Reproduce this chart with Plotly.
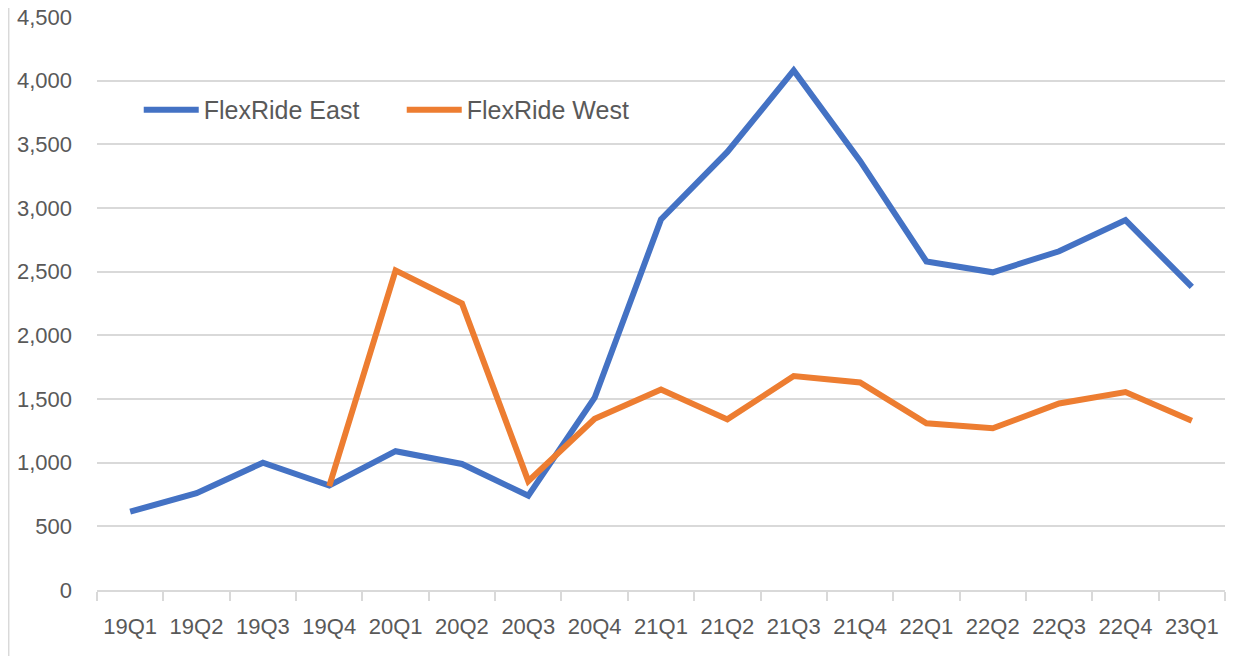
import plotly.graph_objects as go

quarters = ["19Q1", "19Q2", "19Q3", "19Q4", "20Q1", "20Q2", "20Q3", "20Q4", "21Q1",
            "21Q2", "21Q3", "21Q4", "22Q1", "22Q2", "22Q3", "22Q4", "23Q1"]
east = [615, 760, 1000, 820, 1090, 990, 740, 1510, 2910,
        3440, 4080, 3370, 2580, 2495, 2660, 2905, 2380]
west = [None, None, None, 815, 2510, 2250, 855, 1345, 1575,
        1340, 1680, 1630, 1310, 1270, 1465, 1555, 1330]

font_face = "Liberation Sans"
grey = "#595959"

fig = go.Figure()
fig.add_trace(go.Scatter(x=quarters, y=east, name="FlexRide East", mode="lines",
                         line=dict(color="#4472C4", width=6)))
fig.add_trace(go.Scatter(x=quarters, y=west, name="FlexRide West", mode="lines",
                         line=dict(color="#ED7D31", width=6)))

# chart frame on the left
fig.add_shape(type="line", xref="paper", yref="paper", x0=-0.0785, x1=-0.0785,
              y0=-0.2, y1=1.1, line=dict(color="#d9d9d9", width=2))

# page body adds an 8px offset, so margins are trimmed by 8
fig.update_layout(
    width=1243, height=648,
    margin=dict(l=89, r=26, t=9, b=66),
    paper_bgcolor="white", plot_bgcolor="white",
    font=dict(family=font_face, size=22, color=grey),
    showlegend=True,
    legend=dict(orientation="h", x=0.037, y=0.8377, xanchor="left", yanchor="middle",
                font=dict(size=25, color=grey), itemwidth=55,
                entrywidth=193, entrywidthmode="pixels",
                traceorder="normal", bgcolor="rgba(0,0,0,0)"),
    xaxis=dict(type="category", range=[-0.5, 16.5], tickson="boundaries",
               ticks="outside", ticklen=9, tickcolor="#d9d9d9", tickwidth=2,
               showline=True, linecolor="#d9d9d9", linewidth=2,
               showgrid=False, ticklabelstandoff=16, automargin=False,
               ticklabeloverflow="allow"),
    yaxis=dict(range=[0, 4500], dtick=500, tickformat=",", showgrid=True,
               gridcolor="#d9d9d9", gridwidth=2, zeroline=False, showline=False,
               ticks="", ticklabelstandoff=24, automargin=False,
               ticklabeloverflow="allow"),
)

fig.write_html("out.html")
